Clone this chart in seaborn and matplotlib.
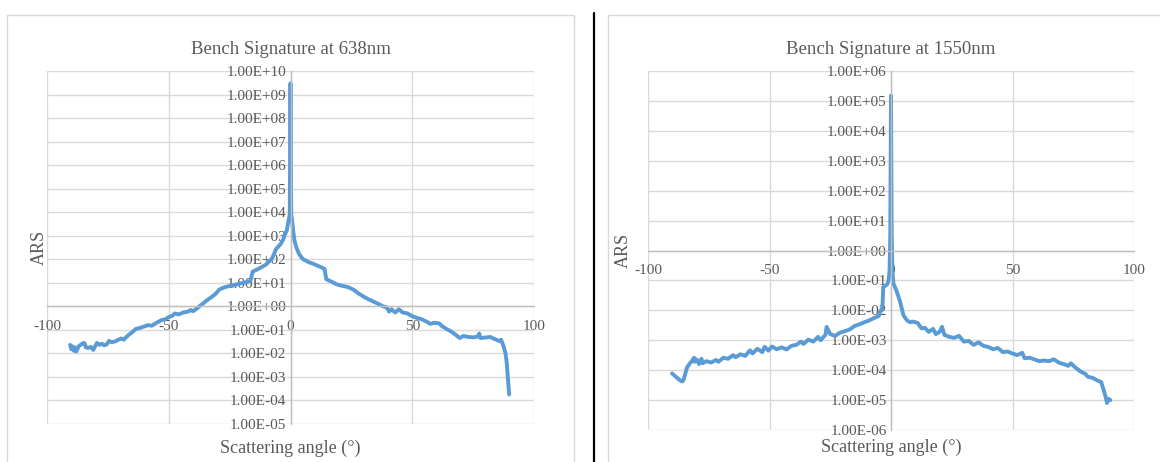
import numpy as np
import pandas as pd
import matplotlib
matplotlib.use("Agg")
from matplotlib import pyplot as plt
from matplotlib.patches import Rectangle
from matplotlib.lines import Line2D
from matplotlib.ticker import FuncFormatter, NullLocator, FixedLocator
import seaborn as sns

# Bench signature at 638 nm (angle in degrees, ARS)
angle_638 = [-90.5, -90, -89.5, -89, -88.5, -88, -87, -86, -85, -84.5, -84, -83, -82, -81, -80,
             -79.5, -78.5, -77.5, -76.5, -75.5, -74.5, -73.5, -72, -70.5, -69.5, -68.5, -67, -65,
             -63.5, -62, -60, -58.5, -57, -55, -53, -51.5, -50, -48.5, -47.5, -46, -44, -42, -41,
             -40, -38.5, -37.4, -36, -34, -31, -29.2, -27, -24, -21, -19.6, -17.5, -16.5, -15.5,
             -13, -10, -7.5, -5.9, -4, -3, -2.5, -1.5, -1.1, -0.6, -0.3, 0, 0.3, 0.6, 1.0, 1.6, 2.5,
             3.5, 4.5, 5.5, 6.4, 7.5, 8.5, 10, 11.5, 13, 14, 14.7, 15.5, 17, 18.8, 21, 23, 24.2, 26,
             28, 30, 32, 34, 36.6, 38, 39.5, 40.5, 41.5, 43, 44.5, 46, 48, 50, 52, 54, 56, 57.5, 59,
             61, 62, 64, 66, 68, 69.5, 71, 73, 75, 77, 77.5, 78, 80, 82, 84, 86, 86.5, 87.5, 88.3,
             88.8, 89.3, 89.8]
ars_638 = [2.3e-2, 1.5e-2, 2.0e-2, 1.3e-2, 1.8e-2, 1.2e-2, 2.0e-2, 2.4e-2, 2.8e-2, 2.6e-2, 1.8e-2,
           1.7e-2, 1.9e-2, 1.4e-2, 2.2e-2, 2.8e-2, 2.3e-2, 2.6e-2, 2.2e-2, 2.4e-2, 3.4e-2, 3.0e-2,
           3.2e-2, 3.9e-2, 4.3e-2, 3.8e-2, 5.5e-2, 8.0e-2, 1.1e-1, 1.2e-1, 1.4e-1, 1.6e-1, 1.5e-1,
           2.0e-1, 2.6e-1, 2.8e-1, 3.5e-1, 4.0e-1, 5.0e-1, 4.5e-1, 5.5e-1, 6.0e-1, 7.0e-1, 6.2e-1,
           8.0e-1, 1.0, 1.3, 1.9, 3.2, 5.2, 6.5, 7.8, 9.0, 10, 11, 12, 30, 40, 60, 110, 275, 450,
           700, 1000, 1700, 3000, 5500, 8000, 3.0e9, 8000, 5000, 2000, 630, 300, 170, 120, 95, 87,
           74, 70, 60, 52, 44, 38, 14, 13, 11, 8.7, 7.5, 6.8, 6.2, 5.0, 3.5, 2.6, 2.0, 1.6, 1.2,
           1.0, 0.9, 0.6, 0.75, 0.55, 0.75, 0.55, 0.5, 0.38, 0.32, 0.28, 0.22, 0.18, 0.2, 0.19,
           0.15, 0.11, 0.085, 0.06, 0.045, 0.055, 0.05, 0.048, 0.052, 0.07, 0.045, 0.047, 0.05,
           0.04, 0.033, 0.038, 0.02, 0.01, 0.004, 0.0008, 0.00018]

# Bench signature at 1550 nm
angle_1550 = [-90.1, -89, -88, -87, -86, -85.5, -85, -84, -83, -82, -81, -80.8, -80, -79, -78, -77.5,
              -76, -74, -72, -71, -69, -67, -65, -64, -62, -60, -58, -57, -55, -53, -52, -50.5, -49,
              -47, -45, -43, -41, -39, -37, -36, -34, -32, -30, -29, -27, -26.5, -25, -23, -21, -19,
              -17, -15, -13, -11, -9, -7, -5, -4.5, -3.5, -3.2, -2.5, -2, -1.5, -1, -0.6, -0.3, 0,
              0.3, 0.6, 1, 2.3, 3.7, 5.1, 6.5, 7.8, 9, 11, 12.5, 14, 15.5, 17.3, 18.5, 20,
              21, 22, 24, 26, 28, 30, 32, 34, 36, 38, 40, 42, 44, 46, 48, 50, 52, 54, 55, 57, 59, 61,
              63, 65, 67, 69, 71, 73, 74, 76, 78, 80, 81, 83, 85, 86.5, 87.5, 88.3, 88.9, 89.5, 90.3]
ars_1550 = [7.8e-5, 6.5e-5, 5.5e-5, 4.7e-5, 4.2e-5, 4.5e-5, 6.0e-5, 1.2e-4, 1.6e-4, 2.0e-4, 2.6e-4,
            1.9e-4, 2.3e-4, 1.6e-4, 2.4e-4, 1.7e-4, 2.0e-4, 1.8e-4, 2.2e-4, 1.9e-4, 2.6e-4, 2.4e-4,
            3.2e-4, 2.7e-4, 3.4e-4, 3.0e-4, 4.6e-4, 3.6e-4, 5.2e-4, 4.0e-4, 6.0e-4, 4.5e-4, 6.2e-4,
            5.0e-4, 5.8e-4, 4.9e-4, 6.5e-4, 7.0e-4, 9.0e-4, 7.5e-4, 1.05e-3, 9.0e-4, 1.3e-3, 1.0e-3,
            1.5e-3, 2.8e-3, 1.6e-3, 1.4e-3, 1.8e-3, 2.0e-3, 2.3e-3, 3.0e-3, 3.4e-3, 4.0e-3, 4.6e-3,
            5.5e-3, 6.5e-3, 9.0e-3, 1.2e-2, 6.0e-2, 6.6e-2, 7.0e-2, 7.5e-2, 1.0e-1, 2.0e-1, 3.0,
            1.5e5, 3.0, 2.0e-1, 8.0e-2, 4.4e-2, 2.0e-2, 6.9e-3, 4.7e-3, 4.0e-3,
            4.2e-3, 3.8e-3, 2.5e-3, 2.6e-3, 1.9e-3, 2.4e-3, 1.6e-3, 1.9e-3, 2.8e-3, 1.5e-3, 1.3e-3,
            1.2e-3, 1.4e-3, 9.0e-4, 9.5e-4, 7.0e-4, 8.5e-4, 6.5e-4, 6.0e-4, 5.0e-4, 5.5e-4, 4.0e-4,
            4.2e-4, 3.6e-4, 3.2e-4, 3.8e-4, 2.5e-4, 2.6e-4, 2.3e-4, 2.0e-4, 2.1e-4, 2.0e-4, 2.3e-4,
            1.8e-4, 1.6e-4, 1.4e-4, 1.7e-4, 1.2e-4, 9.0e-5, 7.5e-5, 6.0e-5, 5.5e-5, 4.5e-5, 4.0e-5,
            2.2e-5, 1.3e-5, 8.0e-6, 1.1e-5, 1.0e-5]

titles = ["Bench Signature at 638nm", "Bench Signature at 1550nm"]
x_ticks = [-100, -50, 0, 50, 100]
y_range_638 = (-5, 10)
y_range_1550 = (-6, 6)

sns.set_style("white")
plt.rcParams["font.family"] = ["Liberation Serif", "DejaVu Serif"]
plt.rcParams["axes.unicode_minus"] = False

GREY_TXT = "#595959"
GRID = "#d9d9d9"
AXIS = "#bfbfbf"
BLUE = "#5b9bd5"

fig = plt.figure(figsize=(11.6, 4.62), dpi=100)

# chart frames and divider
fig.patches.append(Rectangle((7 / 1160, -0.05), (574 - 7) / 1160, 1.05 - 15 / 462, transform=fig.transFigure,
                             fill=False, edgecolor="#d9d9d9", lw=1.0))
fig.patches.append(Rectangle((608 / 1160, -0.05), 0.6, 1.05 - 15 / 462, transform=fig.transFigure,
                             fill=False, edgecolor="#d9d9d9", lw=1.0))
fig.lines.append(Line2D([594 / 1160, 594 / 1160], [0, 1 - 13 / 462], transform=fig.transFigure,
                        color="black", lw=1.6))

ax1 = fig.add_axes([47 / 1160, (462 - 424) / 462, 487 / 1160, 353 / 462])
ax2 = fig.add_axes([648 / 1160, (462 - 430) / 462, 486 / 1160, 359 / 462])

df1 = pd.DataFrame({"angle": angle_638, "ars": ars_638})
df2 = pd.DataFrame({"angle": angle_1550, "ars": ars_1550})

panels = [(ax1, df1, y_range_638, titles[0], 0.002, -0.045),
          (ax2, df2, y_range_1550, titles[1], -0.033, -0.025)]

for ax, df, (lo, hi), title, ylab_x, xlab_y in panels:
    ax.set_yscale("log")
    sns.lineplot(data=df, x="angle", y="ars", ax=ax, color=BLUE, linewidth=2.8,
                 estimator=None, sort=False)
    ax.set_xlim(-100, 100)
    ax.set_ylim(10.0 ** lo, 10.0 ** hi)
    ax.xaxis.set_major_locator(FixedLocator(x_ticks))
    ax.yaxis.set_major_locator(FixedLocator([10.0 ** k for k in range(lo, hi + 1)]))
    ax.yaxis.set_minor_locator(NullLocator())
    ax.yaxis.set_major_formatter(FuncFormatter(lambda v, p: f"{v:.2E}"))
    ax.grid(True, color=GRID, lw=1.0)
    ax.set_facecolor("none")
    for s in ["top", "right"]:
        ax.spines[s].set_visible(False)
    ax.spines["left"].set_position(("data", 0))
    ax.spines["bottom"].set_position(("data", 1))
    for s in ["left", "bottom"]:
        ax.spines[s].set_color(AXIS)
        ax.spines[s].set_linewidth(1.0)
    ax.tick_params(axis="both", length=0, labelsize=11, labelcolor=GREY_TXT)
    ax.tick_params(axis="x", pad=10)
    ax.tick_params(axis="y", pad=3)
    ax.set_title(title, fontsize=13.5, color=GREY_TXT, pad=12)
    ax.set_xlabel("Scattering angle (°)", fontsize=13, color=GREY_TXT)
    ax.set_ylabel("ARS", fontsize=13, color=GREY_TXT)
    ax.xaxis.set_label_coords(0.5, xlab_y)
    ax.yaxis.set_label_coords(ylab_x, 0.5)

fig.savefig("out.png", dpi=100)
